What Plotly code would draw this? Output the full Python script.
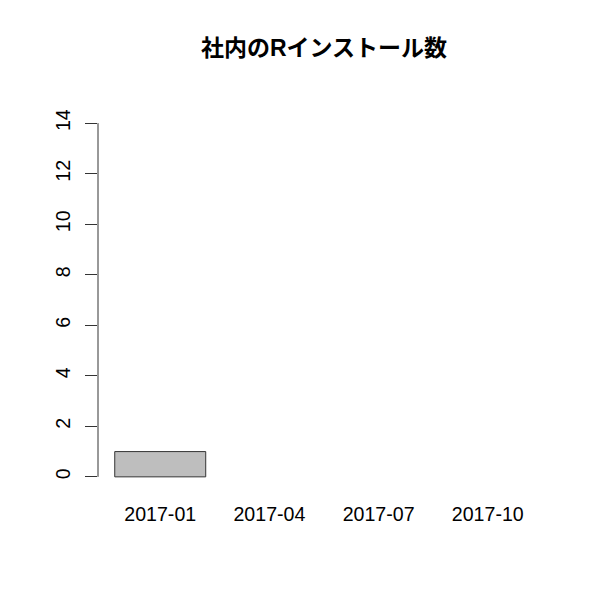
import plotly.graph_objects as go

months = ["2017-01", "2017-04", "2017-07", "2017-10"]
installs = [1, None, None, None]
y_ticks = [0, 2, 4, 6, 8, 10, 12, 14]
title_text = "社内のRインストール数"

# R barplot geometry: width 1, space 0.2, 4% axis padding
space = 0.2
n = len(months)
lo, hi = space, n * (1 + space)
pad = 0.04 * (hi - lo)
step = 1 + space
xr = [((lo - pad) - (space + 0.5)) / step, ((hi + pad) - (space + 0.5)) / step]
ymin, ymax = min(y_ticks), max(y_ticks)
ypad = 0.04 * (ymax - ymin)
yr = [ymin - ypad, ymax + ypad]

font_latin = "Liberation Sans, Arial, Noto Sans CJK JP, sans-serif"

fig = go.Figure(
    go.Bar(
        x=months,
        y=installs,
        marker=dict(color="#BEBEBE", line=dict(color="#333333", width=1)),
    )
)

fig.update_layout(
    width=600,
    height=600,
    paper_bgcolor="white",
    plot_bgcolor="white",
    margin=dict(l=98, r=50, t=109, b=109),
    bargap=1 - 1 / step,
    showlegend=False,
    title=dict(
        text="<b>" + title_text + "</b>",
        x=0.5,
        xref="paper",
        xanchor="center",
        y=1 - 48 / 600,
        yref="container",
        yanchor="middle",
        font=dict(family="Liberation Sans, Noto Sans CJK JP, sans-serif", size=23, color="black"),
    ),
    font=dict(family=font_latin, color="black"),
)

fig.update_xaxes(
    type="category",
    range=xr,
    showline=False,
    showgrid=False,
    zeroline=False,
    ticks="outside",
    ticklen=5,
    tickcolor="rgba(0,0,0,0)",
    tickfont=dict(size=19.6, family=font_latin, color="black"),
)

fig.update_yaxes(
    range=yr,
    tickvals=y_ticks,
    ticktext=[str(v) for v in y_ticks],
    showline=False,
    showgrid=False,
    zeroline=False,
    ticks="outside",
    ticklen=12,
    tickwidth=1,
    tickcolor="#333333",
    tickangle=-90,
    ticklabelstandoff=7,
    tickfont=dict(size=19.6, family=font_latin, color="black"),
)

fig.add_shape(
    type="line",
    xref="paper",
    yref="y",
    x0=0,
    x1=0,
    y0=ymin,
    y1=ymax,
    line=dict(color="#333333", width=1),
)

fig.write_html("out.html")
